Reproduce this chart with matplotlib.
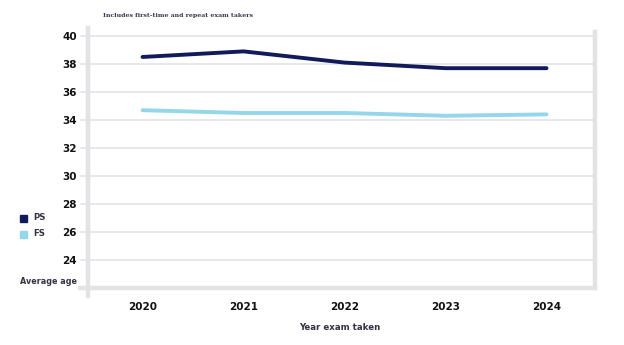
import matplotlib
matplotlib.use('Agg')
import matplotlib.pyplot as plt
from matplotlib.lines import Line2D
from matplotlib.patches import Rectangle

years = [2020, 2021, 2022, 2023, 2024]
ps_age = [38.5, 38.9, 38.1, 37.7, 37.7]
fs_age = [34.7, 34.5, 34.5, 34.3, 34.4]
y_ticks = [24, 26, 28, 30, 32, 34, 36, 38, 40]
series_names = ['PS', 'FS']

ps_color = '#111b5c'
fs_color = '#94d6ea'
grid_color = '#e8e8ea'
spine_color = '#e3e3e6'

fig = plt.figure(figsize=(6.24, 3.45), dpi=100)
ax = fig.add_axes([88/624, 1-288/345, (595-88)/624, (288-28)/345])

# lines
ax.plot(years, ps_age, color=ps_color, lw=2.8, solid_capstyle='round', solid_joinstyle='round', zorder=3)
ax.plot(years, fs_age, color=fs_color, lw=2.8, solid_capstyle='round', solid_joinstyle='round', zorder=3)

ax.set_xlim(2019.46, 2024.48)
ax.set_ylim(22, 40.57)
ax.set_xticks(years)
ax.set_xticklabels([str(y) for y in years])
ax.set_yticks(y_ticks)

for y in y_ticks:
    ax.axhline(y, color=grid_color, lw=1.5, zorder=1)

for s in ax.spines.values():
    s.set_visible(False)

# thick frame lines, extended past the corners
tr = ax.transAxes
ax.add_line(Line2D([0, 0], [-0.03, 1.0], transform=tr, color=spine_color, lw=3.2, clip_on=False))
ax.add_line(Line2D([1, 1], [0, 0.985], transform=tr, color=spine_color, lw=3.2, clip_on=False))
ax.add_line(Line2D([-0.016, 1.0], [0, 0], transform=tr, color=spine_color, lw=3.2, clip_on=False))

ax.tick_params(axis='y', length=6, width=1.5, color=grid_color, pad=2,
               labelsize=7.5, labelcolor='#111111')
ax.tick_params(axis='x', length=0, pad=10, labelsize=7.5, labelcolor='#111111')
for lab in ax.get_xticklabels() + ax.get_yticklabels():
    lab.set_fontweight('bold')

# subtitle
fig.text(103/624, 1-16/345, 'Includes first-time and repeat exam takers',
         family='DejaVu Serif', fontsize=4.5, fontweight='bold', color='#3a3a55',
         ha='left', va='center')

# x label
fig.text(340/624, 1-328/345, 'Year exam taken', fontsize=6.2, fontweight='bold',
         color='#333344', ha='center', va='center')

# y label placed at bottom left
fig.text(20/624, 1-281/345, 'Average age', fontsize=5.8, fontweight='bold',
         color='#333344', ha='left', va='center')

# legend
for i, (name, col) in enumerate(zip(series_names, [ps_color, fs_color])):
    yc = 1 - (218 + i*16)/345
    fig.patches.append(Rectangle((20/624, yc - 3.5/345), 7/624, 7/345,
                                 transform=fig.transFigure, color=col))
    fig.text(33/624, yc, name, fontsize=6.2, fontweight='bold', color='#333344',
             ha='left', va='center')

fig.savefig('out.png', dpi=100)
